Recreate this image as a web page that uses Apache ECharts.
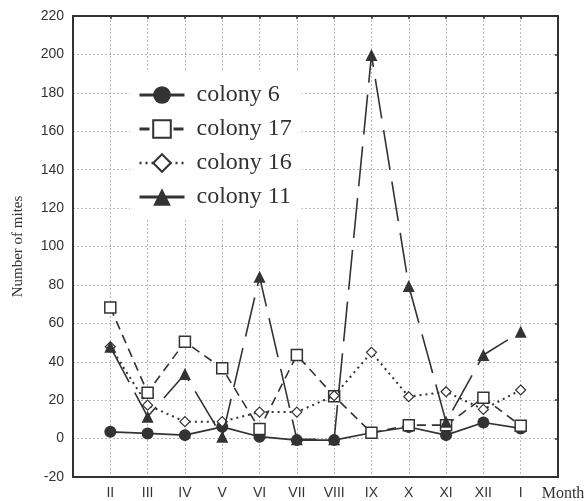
<!DOCTYPE html>
<html>
<head>
<meta charset="utf-8">
<script src="https://cdn.jsdelivr.net/npm/echarts@6/dist/echarts.min.js"></script>
<style>
  html, body { margin: 0; padding: 0; background: #fff; }
  #chart { width: 588px; height: 501px; }
</style>
</head>
<body>
<div id="chart"></div>
<script type="text/javascript">
// months, Feb .. Jan
var months = ['II', 'III', 'IV', 'V', 'VI', 'VII', 'VIII', 'IX', 'X', 'XI', 'XII', 'I'];
var colony6  = [3.5, 2.7, 1.8, 6.1, 1, -0.8, -0.8, 3, 6, 1.8, 8.4, 5.3];
var colony17 = [68.3, 23.9, 50.4, 36.6, 5, 43.5, 22.1, 3, 7, 7, 21.3, 6.7];
var colony16 = [47.8, 17.4, 8.8, 8.8, 13.8, 13.8, 22.3, 44.9, 21.8, 24.4, 15.2, 25.3];
var colony11 = [47.8, 11.4, 33.6, 0.9, 84.3, -0.4, -0.4, 199.7, 79.4, 8.7, 43.5, 55.6];
var yTicks = { min: -20, max: 220, step: 20 };

var ink = '#333';
var serif = '"Liberation Serif", "DejaVu Serif", serif';
var sans = '"Liberation Sans", Arial, sans-serif';

function pts(vals) {
    return vals.map(function (v, i) { return [i + 1, v]; });
}

function ready() {
    var myChart = echarts.init(document.getElementById('chart'), null, { renderer: 'canvas' });
    var frame = { show: true, onZero: false, lineStyle: { color: ink, width: 2 } };
    var option = {
        backgroundColor: '#fff',
        animation: false,
        grid: { left: 73, right: 30, top: 16, bottom: 24, outerBoundsMode: 'none' },
        legend: {
            orient: 'vertical',
            left: 130,
            top: 70,
            backgroundColor: '#fff',
            padding: [13, 10, 9, 8],
            itemWidth: 45,
            itemHeight: 22,
            itemGap: 10,
            textStyle: { fontFamily: serif, fontSize: 24, color: ink, padding: [0, 0, 0, 7] },
            data: [
                { name: 'colony 6', lineStyle: { type: 'solid', width: 3 } },
                { name: 'colony 17', lineStyle: { type: [10, 7], width: 3 } },
                { name: 'colony 16', lineStyle: { type: [2, 4], width: 2.5 } },
                { name: 'colony 11', lineStyle: { type: 'solid', width: 3 } }
            ]
        },
        xAxis: [{
            type: 'value',
            min: 0,
            max: 13,
            interval: 1,
            axisLine: frame,
            axisTick: { show: false },
            splitLine: { show: true, lineStyle: { color: '#bbb', type: [2, 2], width: 1 } },
            axisLabel: {
                margin: 9,
                fontFamily: sans,
                fontSize: 14,
                color: ink,
                showMaxLabel: true,
                formatter: function (v) {
                    if (v >= 1 && v <= 12) return months[v - 1];
                    if (v === 13) return '{m|Month}';
                    return '';
                },
                rich: { m: { fontFamily: serif, fontSize: 16, color: ink, padding: [0, 0, 0, 10] } }
            }
        }, {
            type: 'value',
            position: 'top',
            min: 0,
            max: 13,
            interval: 1,
            axisLine: frame,
            axisTick: { show: true, inside: true, length: 3, lineStyle: { color: ink, width: 1.5 } },
            axisLabel: { show: false },
            splitLine: { show: false }
        }],
        yAxis: [{
            type: 'value',
            min: yTicks.min,
            max: yTicks.max,
            interval: yTicks.step,
            name: 'Number of mites',
            nameLocation: 'middle',
            nameGap: 47,
            nameTextStyle: { fontFamily: serif, fontSize: 15, color: ink },
            axisLine: frame,
            axisTick: { show: false },
            splitLine: { show: true, lineStyle: { color: '#bbb', type: [2, 2], width: 1 } },
            axisLabel: { margin: 9, fontFamily: sans, fontSize: 14, color: ink }
        }, {
            type: 'value',
            position: 'right',
            min: yTicks.min,
            max: yTicks.max,
            interval: yTicks.step,
            axisLine: frame,
            axisTick: { show: true, inside: true, length: 3, lineStyle: { color: ink, width: 1.5 } },
            axisLabel: { show: false },
            splitLine: { show: false }
        }],
        series: [{
            name: 'colony 6',
            type: 'line',
            data: pts(colony6),
            symbol: 'circle',
            symbolSize: 12,
            itemStyle: { color: ink },
            lineStyle: { color: ink, width: 1.6, type: 'solid' },
            z: 2
        }, {
            name: 'colony 17',
            type: 'line',
            data: pts(colony17),
            symbol: 'rect',
            symbolSize: 11,
            itemStyle: { color: '#fff', borderColor: ink, borderWidth: 1.5 },
            lineStyle: { color: ink, width: 1.6, type: [9, 6] },
            z: 3
        }, {
            name: 'colony 16',
            type: 'line',
            data: pts(colony16),
            symbol: 'diamond',
            symbolSize: 10,
            itemStyle: { color: '#fff', borderColor: ink, borderWidth: 1.2 },
            lineStyle: { color: ink, width: 2, type: [2, 4] },
            z: 4
        }, {
            name: 'colony 11',
            type: 'line',
            data: pts(colony11),
            symbol: 'triangle',
            symbolSize: 12,
            itemStyle: { color: ink },
            lineStyle: { color: ink, width: 1.6, type: [40, 12] },
            z: 5
        }]
    };
    myChart.setOption(option);
}
ready();
</script>
</body>
</html>
